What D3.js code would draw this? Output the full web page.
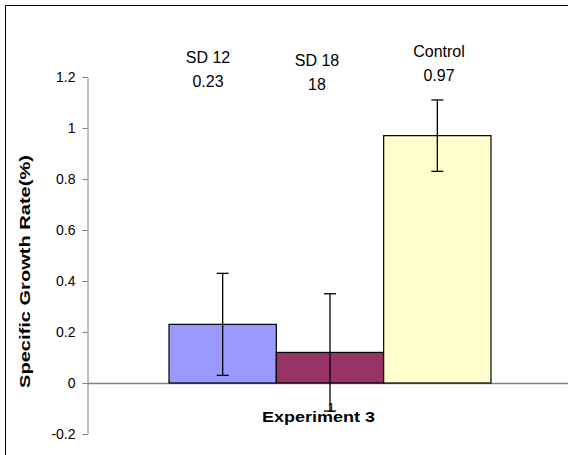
<!DOCTYPE html>
<html lang="en">
<head>
    <meta charset="UTF-8">
    <title>Experiment 3</title>
    <script type="text/javascript" src="https://cdn.jsdelivr.net/npm/d3@7"></script>
    <style type="text/css">
        body { margin: 0; background: #fff; }
        text { font-family: "Liberation Sans", Arial, sans-serif; }
    </style>
</head>
<body>
    <script type="text/javascript">
        // data
        var categories = ["SD 12", "SD 18", "Control"];
        var values = [0.23, 0.12, 0.97];
        var errLow = [0.03, -0.11, 0.83];
        var errHigh = [0.43, 0.35, 1.11];
        var topLabels = ["0.23", "18", "0.97"];
        var yTicks = [-0.2, 0, 0.2, 0.4, 0.6, 0.8, 1, 1.2];
        var colors = ["#9999ff", "#993366", "#ffffcc"];

        var w = 568;
        var h = 455;

        var svg = d3.select("body")
            .append("svg")
            .attr("width", w)
            .attr("height", h);

        // outer frame (runs off right / bottom)
        svg.append("rect")
            .attr("x", 5.5).attr("y", 5.5)
            .attr("width", 700).attr("height", 600)
            .attr("fill", "none")
            .attr("stroke", "#000");

        var xScale = d3.scaleBand()
            .domain(categories)
            .range([169, 491])
            .padding(0);

        var yScale = d3.scaleLinear()
            .domain([-0.2, 1.2])
            .range([434, 77]);

        // y axis
        var yAxis = d3.axisLeft(yScale)
            .tickValues(yTicks)
            .tickSize(5)
            .tickPadding(7)
            .tickFormat(function(d) { return String(+d.toFixed(1)); });

        var gy = svg.append("g")
            .attr("transform", "translate(87.5,0)")
            .call(yAxis);
        gy.select(".domain").attr("stroke", "#808080");
        gy.selectAll(".tick line").attr("stroke", "#808080");
        gy.selectAll("text")
            .attr("font-size", 14)
            .attr("fill", "#000");

        // zero line
        svg.append("line")
            .attr("x1", 87.5).attr("x2", w)
            .attr("y1", Math.round(yScale(0)) + 0.5)
            .attr("y2", Math.round(yScale(0)) + 0.5)
            .attr("stroke", "#808080")
            .attr("stroke-width", 1.5);

        // bars
        svg.selectAll("rect.bar")
            .data(values)
            .enter()
            .append("rect")
            .attr("class", "bar")
            .attr("x", function(d, i) { return xScale(categories[i]); })
            .attr("y", function(d) { return yScale(d); })
            .attr("width", xScale.bandwidth())
            .attr("height", function(d) { return yScale(0) - yScale(d); })
            .attr("fill", function(d, i) { return colors[i]; })
            .attr("stroke", "#000")
            .attr("stroke-width", 1.2);

        // error bars
        var cx = function(i) { return xScale(categories[i]) + xScale.bandwidth() / 2; };
        var eb = svg.selectAll("g.err")
            .data(values)
            .enter()
            .append("g")
            .attr("class", "err")
            .attr("stroke", "#000")
            .attr("stroke-width", 1.3);
        eb.append("line")
            .attr("x1", function(d, i) { return cx(i); })
            .attr("x2", function(d, i) { return cx(i); })
            .attr("y1", function(d, i) { return yScale(errHigh[i]); })
            .attr("y2", function(d, i) { return yScale(errLow[i]); });
        eb.append("line")
            .attr("x1", function(d, i) { return cx(i) - 6; })
            .attr("x2", function(d, i) { return cx(i) + 6; })
            .attr("y1", function(d, i) { return yScale(errHigh[i]); })
            .attr("y2", function(d, i) { return yScale(errHigh[i]); });
        eb.append("line")
            .attr("x1", function(d, i) { return cx(i) - 6; })
            .attr("x2", function(d, i) { return cx(i) + 6; })
            .attr("y1", function(d, i) { return yScale(errLow[i]); })
            .attr("y2", function(d, i) { return yScale(errLow[i]); });

        // labels above the plot
        var labelX = [208, 317, 439];
        var labelY = [63, 66, 57];
        categories.forEach(function(c, i) {
            svg.append("text")
                .attr("x", labelX[i]).attr("y", labelY[i])
                .attr("text-anchor", "middle")
                .attr("font-size", 16)
                .text(c);
            svg.append("text")
                .attr("x", labelX[i]).attr("y", labelY[i] + 24)
                .attr("text-anchor", "middle")
                .attr("font-size", 16)
                .text(topLabels[i]);
        });

        // category tick label and axis title
        svg.append("text")
            .attr("x", 331).attr("y", 412)
            .attr("text-anchor", "middle")
            .attr("font-size", 13)
            .text("1");

        svg.append("text")
            .attr("x", 262).attr("y", 422)
            .attr("font-size", 14)
            .attr("font-weight", "bold")
            .attr("textLength", 113)
            .attr("lengthAdjust", "spacingAndGlyphs")
            .text("Experiment 3");

        svg.append("text")
            .attr("transform", "translate(29.5,388) rotate(-90)")
            .attr("font-size", 14)
            .attr("font-weight", "bold")
            .attr("textLength", 233)
            .attr("lengthAdjust", "spacingAndGlyphs")
            .text("Specific Growth Rate(%)");
    </script>
</body>
</html>
